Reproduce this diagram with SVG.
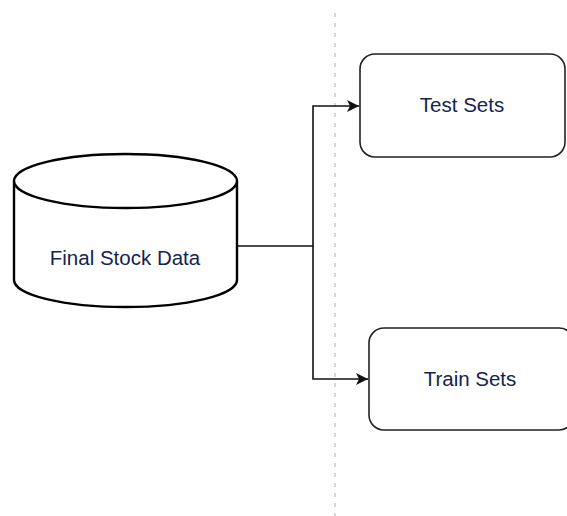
<svg xmlns="http://www.w3.org/2000/svg" width="567" height="516" viewBox="0 0 567 516">
  <style>
    .label { font-family: "Liberation Sans", Arial, sans-serif; font-size: 20.5px; fill: #142350; text-anchor: middle; }
    .box { fill: #ffffff; stroke: #222222; stroke-width: 1.6; }
    .cyl { fill: #ffffff; stroke: #000000; stroke-width: 2.4; }
    .edge { fill: none; stroke: #111111; stroke-width: 1.6; }
    .divider { stroke: #cccccc; stroke-width: 1.5; stroke-dasharray: 4 6; }
  </style>
  <defs>
    <marker id="arrow" viewBox="0 0 12 12" refX="12" refY="6" markerWidth="12" markerHeight="12" markerUnits="userSpaceOnUse" orient="auto">
      <path d="M0,0 L12,6 L0,12 L3,6 Z" fill="#111111"/>
    </marker>
  </defs>
  <rect width="567" height="516" fill="#ffffff"/>

  <line class="divider" x1="335" y1="13" x2="335" y2="516"/>

  <g id="connectors">
    <polyline class="edge" points="237,246 313,246 313,106 359,106" marker-end="url(#arrow)"/>
    <polyline class="edge" points="313,246 313,379 368,379" marker-end="url(#arrow)"/>
  </g>

  <g id="final-stock-data">
    <path class="cyl" d="M14,181 L14,280 A111.5,27 0 0 0 237,280 L237,181 A111.5,27 0 0 0 14,181 Z"/>
    <path class="cyl" d="M14,181 A111.5,27 0 0 0 237,181" fill="none"/>
    <text class="label" x="125" y="265">Final Stock Data</text>
  </g>

  <g id="test-sets">
    <rect class="box" x="360" y="54" width="205" height="103" rx="15" ry="15"/>
    <text class="label" x="462" y="112">Test Sets</text>
  </g>

  <g id="train-sets">
    <rect class="box" x="369" y="328" width="205" height="102" rx="15" ry="15"/>
    <text class="label" x="470" y="386">Train Sets</text>
  </g>
</svg>
